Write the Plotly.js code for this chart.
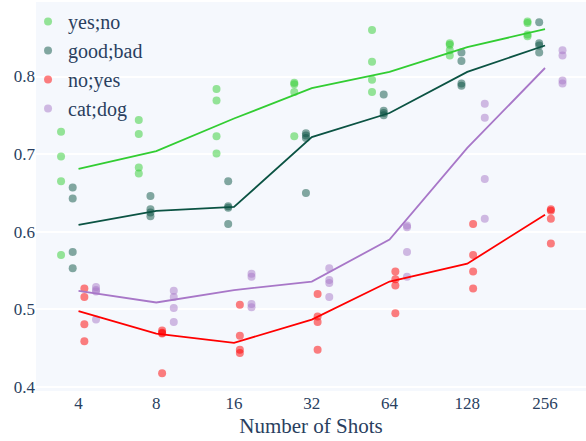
<!DOCTYPE html>
<html>
<head>
<meta charset="utf-8">
<script src="https://cdn.plot.ly/plotly-3.0.1.min.js"></script>
<style>html,body{margin:0;padding:0;background:#fff;}#chart{width:586px;height:441px;}</style>
</head>
<body>
<div id="chart"></div>
<script>
// Categories (number of shots)
const shots = ['4', '8', '16', '32', '64', '128', '256'];
const seriesNames = ['yes;no', 'good;bad', 'no;yes', 'cat;dog'];

// Individual run scores per shot count (4 runs each)
const yesNoRuns = [[0.729,0.697,0.665,0.570],[0.744,0.726,0.683,0.675],[0.784,0.769,0.723,0.701],[0.792,0.790,0.780,0.723],[0.860,0.819,0.796,0.780],[0.843,0.841,0.834,0.827],[0.871,0.869,0.854,0.852]];
const goodBadRuns = [[0.657,0.643,0.574,0.553],[0.646,0.629,0.625,0.620],[0.665,0.633,0.631,0.610],[0.727,0.724,0.721,0.650],[0.777,0.756,0.753,0.750],[0.831,0.820,0.791,0.788],[0.870,0.843,0.840,0.831]];
const noYesRuns = [[0.527,0.516,0.481,0.459],[0.473,0.470,0.469,0.418],[0.506,0.466,0.448,0.444],[0.520,0.491,0.484,0.448],[0.549,0.539,0.531,0.495],[0.610,0.570,0.549,0.527],[0.629,0.627,0.617,0.585]];
const catDogRuns = [[0.529,0.525,0.523,0.487],[0.524,0.516,0.502,0.484],[0.546,0.542,0.507,0.503],[0.553,0.538,0.534,0.516],[0.608,0.606,0.574,0.542],[0.765,0.747,0.668,0.617],[0.834,0.827,0.795,0.791]];

// Summary (median) line values
const yesNoLine = [0.681,0.704,0.746,0.785,0.806,0.838,0.861];
const goodBadLine = [0.609,0.627,0.632,0.722,0.753,0.806,0.840];
const noYesLine = [0.498,0.469,0.457,0.487,0.536,0.559,0.622];
const catDogLine = [0.524,0.509,0.525,0.536,0.590,0.708,0.811];

const runs = [yesNoRuns, goodBadRuns, noYesRuns, catDogRuns];
const lines = [yesNoLine, goodBadLine, noYesLine, catDogLine];
const colors = ['#32CD32', '#0B5343', '#FF0000', '#A877C8'];
const dodge = [-0.225, -0.075, 0.075, 0.225];

const traces = [];
runs.forEach((r, s) => {
  const xs = [], ys = [];
  r.forEach((vals, i) => vals.forEach(v => { xs.push(i + dodge[s]); ys.push(v); }));
  traces.push({
    type: 'scatter', mode: 'markers', name: seriesNames[s], x: xs, y: ys,
    marker: {color: colors[s], size: 8, opacity: 0.5}, showlegend: true
  });
});
lines.forEach((l, s) => {
  traces.push({
    type: 'scatter', mode: 'lines', name: seriesNames[s] + ' median',
    x: shots.map((_, i) => i), y: l,
    line: {color: colors[s], width: 1.8}, showlegend: false
  });
});

const fontFam = 'Liberation Serif, Times New Roman, serif';
const layout = {
  width: 586, height: 441,
  margin: {l: 36, r: 0, t: 2, b: 50},
  paper_bgcolor: '#ffffff',
  plot_bgcolor: '#F5F8FD',
  font: {family: fontFam, color: '#2a3f5f', size: 17},
  showlegend: true,
  legend: {x: -0.0145, y: 1, xanchor: 'left', yanchor: 'top', bgcolor: 'rgba(0,0,0,0)', font: {size: 20, family: fontFam, color: '#2a3f5f'}},
  xaxis: {
    type: 'linear', range: [-0.547, 6.527],
    tickmode: 'array', tickvals: shots.map((_, i) => i), ticktext: shots,
    showgrid: false, zeroline: false, showline: false, ticks: '',
    title: {text: 'Number of Shots', font: {size: 21, family: fontFam, color: '#2a3f5f'}, standoff: 6}
  },
  yaxis: {
    range: [0.395, 0.896], dtick: 0.1, tick0: 0.4,
    showgrid: true, gridcolor: '#ffffff', gridwidth: 2,
    zeroline: false, showline: false, ticks: '', tickformat: '.1f'
  }
};

Plotly.newPlot('chart', traces, layout, {displayModeBar: false, staticPlot: true});
</script>
</body>
</html>
